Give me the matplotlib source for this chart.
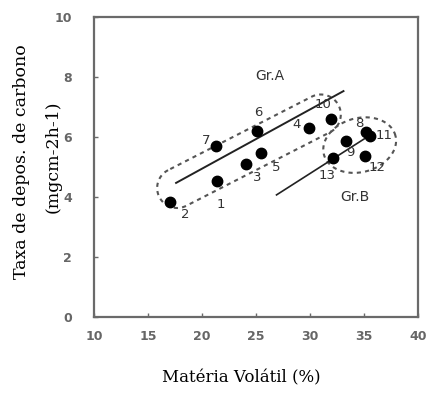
import numpy as np
from matplotlib import pyplot as plt
from matplotlib.path import Path
from matplotlib.patches import PathPatch

# sample points (Materia volatil %, taxa de deposicao)
ids = ["1", "2", "3", "4", "5", "6", "7", "8", "9", "10", "11", "12", "13"]
vol = [21.4, 17.0, 24.1, 29.9, 25.5, 25.1, 21.3, 35.2, 33.3, 31.9, 35.6, 35.1, 32.1]
rate = [4.55, 3.83, 5.1, 6.3, 5.47, 6.2, 5.7, 6.17, 5.87, 6.6, 6.03, 5.37, 5.3]

# label offsets in pixels (dx, dy) relative to each point
lab_off = [(4, -24), (16, -12), (11, -13), (-12, 4), (15, -15), (1, 18), (-10, 6),
           (-7, 8), (5, -12), (-8, 14), (14, 1), (12, -12), (-6, -17)]

# fitted lines for the two groups
lineA_x = [17.6, 33.1]
lineA_y = [4.47, 7.53]
lineB_x = [26.9, 35.6]
lineB_y = [4.07, 6.07]

xticks = [10, 15, 20, 25, 30, 35, 40]
yticks = [0, 2, 4, 6, 8, 10]

fig = plt.figure(figsize=(4.26, 3.94), dpi=100)
ax = fig.add_axes([94 / 426, 77 / 394, 324 / 426, 300 / 394])
ax.set_xlim(10, 40)
ax.set_ylim(0, 10)

for s in ax.spines.values():
    s.set_color("#6a6a6a")
    s.set_linewidth(1.6)

ax.set_xticks(xticks)
ax.set_yticks(yticks)
ax.tick_params(direction="in", length=3, width=1, color="#6a6a6a",
               labelcolor="#666666", labelsize=9)
ax.tick_params(axis="y", pad=16)
ax.tick_params(axis="x", pad=9)
for lab in ax.get_xticklabels() + ax.get_yticklabels():
    lab.set_fontweight("bold")

# regression lines
ax.plot(lineA_x, lineA_y, color="#222222", lw=1.4)
ax.plot(lineB_x, lineB_y, color="#222222", lw=1.2)

# points
ax.plot(vol, rate, "o", color="black", ms=7.5, zorder=5)
for name, x, y, (dx, dy) in zip(ids, vol, rate, lab_off):
    ax.annotate(name, (x, y), xytext=(dx, dy), textcoords="offset pixels",
                ha="center", va="center", fontsize=9.5, color="#333333")

# group outlines, built in display space so they keep their shape
fig.canvas.draw()
to_disp = ax.transData
to_data = ax.transData.inverted()


def stadium(p1, p2, r, n=40):
    c1 = to_disp.transform(p1)
    c2 = to_disp.transform(p2)
    ang = np.arctan2(c2[1] - c1[1], c2[0] - c1[0])
    t1 = np.linspace(ang + np.pi / 2, ang + 3 * np.pi / 2, n)
    t2 = np.linspace(ang - np.pi / 2, ang + np.pi / 2, n)
    pts = np.vstack([
        np.column_stack([c1[0] + r * np.cos(t1), c1[1] + r * np.sin(t1)]),
        np.column_stack([c2[0] + r * np.cos(t2), c2[1] + r * np.sin(t2)]),
    ])
    pts = np.vstack([pts, pts[:1]])
    return to_data.transform(pts)


def ellipse(c, a, b, tilt, n=80):
    cc = to_disp.transform(c)
    t = np.linspace(0, 2 * np.pi, n)
    th = np.radians(tilt)
    x = a * np.cos(t)
    y = b * np.sin(t)
    pts = np.column_stack([cc[0] + x * np.cos(th) - y * np.sin(th),
                           cc[1] + x * np.sin(th) + y * np.cos(th)])
    return to_data.transform(pts)


dash = dict(fill=False, edgecolor="#555555", lw=1.5, linestyle=(0, (2, 2)))
ax.add_patch(PathPatch(Path(stadium((17.7, 4.3), (31.0, 6.75), 20)), **dash))
ax.add_patch(PathPatch(Path(ellipse((34.6, 5.73), 37, 27, 15)), **dash))

ax.text(26.3, 8.03, "Gr.A", ha="center", va="center", fontsize=10, color="#333333")
ax.text(34.2, 4.0, "Gr.B", ha="center", va="center", fontsize=10, color="#333333")

fig.text(22 / 426, 1 - 162 / 394, "Taxa de depos. de carbono", rotation=90,
         ha="center", va="center", family="DejaVu Serif", fontsize=12.5)
fig.text(53 / 426, 1 - 157 / 394, "(mgcm-2h-1)", rotation=90,
         ha="center", va="center", family="DejaVu Serif", fontsize=12.5)
fig.text(241 / 426, 1 - 378 / 394, "Matéria Volátil (%)",
         ha="center", va="center", family="DejaVu Serif", fontsize=12)

fig.savefig("out.png", dpi=100)
